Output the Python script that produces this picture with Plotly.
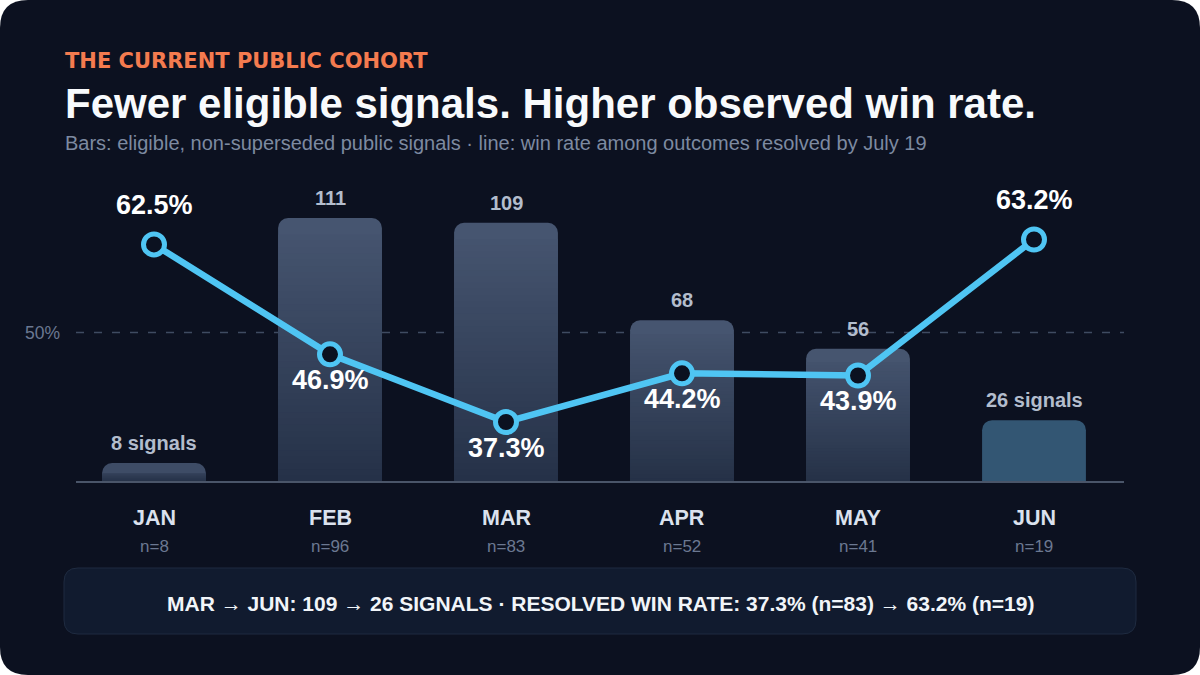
import plotly.graph_objects as go

# ---------------- data ----------------
months = ["JAN", "FEB", "MAR", "APR", "MAY", "JUN"]
signals = [8, 111, 109, 68, 56, 26]
win_rate = [62.5, 46.9, 37.3, 44.2, 43.9, 63.2]
resolved_n = [8, 96, 83, 52, 41, 19]
bar_labels = ["8 signals", "111", "109", "68", "56", "26 signals"]
rate_labels = ["62.5%", "46.9%", "37.3%", "44.2%", "43.9%", "63.2%"]
rate_label_above = [True, False, False, False, False, True]
highlight_month = "JUN"
reference_rate = 50

eyebrow = "THE CURRENT PUBLIC COHORT"
title = "Fewer eligible signals. Higher observed win rate."
subtitle = "Bars: eligible, non-superseded public signals · line: win rate among outcomes resolved by July 19"
summary = "MAR → JUN: 109 → 26 SIGNALS · RESOLVED WIN RATE: 37.3% (n=83) → 63.2% (n=19)"

# ---------------- styling ----------------
W, H = 1200, 675
FONT = "Liberation Sans, Arial, Helvetica, sans-serif"
BG = "#0c1120"
BAR_TOP = (0x47, 0x56, 0x71)
BAR_BOT = (0x25, 0x31, 0x47)
BAR_LAST = "#335673"
LINE = "#4fc5f3"
plot_left, plot_right = 66, 1122
plot_top, plot_bottom = 150, 482
bar_px_per_unit = 2.378
rate_px_per_pt = 7.047
rate_ref_px = 332.5
corner_px = 10


def px_x(p):
    return p / W


def px_y(p):
    return (H - p) / H


def mix(t):
    t = max(0.0, min(1.0, t))
    r, g, b = (round(BAR_BOT[i] + (BAR_TOP[i] - BAR_BOT[i]) * t) for i in range(3))
    return f"rgb({r},{g},{b})"


fig = go.Figure()

is_hl = [m == highlight_month for m in months]
corner_units = corner_px / bar_px_per_unit
base_colors = [BAR_LAST if h else mix((v - corner_units / 2) / v) for v, h in zip(signals, is_hl)]
fig.add_trace(go.Bar(
    x=months, y=signals, width=0.59,
    marker=dict(color=base_colors, line=dict(width=0), cornerradius=corner_px),
    hoverinfo="skip", showlegend=False, yaxis="y",
))

# vertical gradient: overlaid shorter bars with progressively darker shade
N = 40
for k in range(1, N):
    frac = 1 - k / N
    ys, cols = [], []
    for v, h in zip(signals, is_hl):
        if h:
            ys.append(None)
            cols.append(BAR_LAST)
        else:
            top = (v - corner_units) * frac
            ys.append(top)
            cols.append(mix((top - 0.5 * (v - corner_units) / N) / v))
    fig.add_trace(go.Bar(
        x=months, y=ys, width=0.59,
        marker=dict(color=cols, line=dict(width=0)),
        hoverinfo="skip", showlegend=False, yaxis="y",
    ))

fig.add_trace(go.Scatter(
    x=months, y=win_rate, mode="lines+markers", yaxis="y2",
    line=dict(color=LINE, width=6.5),
    marker=dict(size=21, color="#0b1120", line=dict(color=LINE, width=5)),
    hoverinfo="skip", showlegend=False,
))

annotations = []
for m, v, t in zip(months, signals, bar_labels):
    annotations.append(dict(x=m, y=v, xref="x", yref="y", text=f"<b>{t}</b>",
                            showarrow=False, yanchor="middle", yshift=20,
                            font=dict(family=FONT, size=20, color="#b3bdcd")))
for m, v, t, above in zip(months, win_rate, rate_labels, rate_label_above):
    annotations.append(dict(x=m, y=v, xref="x", yref="y2", text=f"<b>{t}</b>",
                            showarrow=False, yanchor="middle",
                            yshift=39 if above else -26,
                            font=dict(family=FONT, size=27, color="#ffffff")))
for m, n in zip(months, resolved_n):
    annotations.append(dict(x=m, y=px_y(518), xref="x", yref="paper", text=f"<b>{m}</b>",
                            showarrow=False, yanchor="middle",
                            font=dict(family=FONT, size=21.5, color="#dbe2ee")))
    annotations.append(dict(x=m, y=px_y(546), xref="x", yref="paper", text=f"n={n}",
                            showarrow=False, yanchor="middle",
                            font=dict(family=FONT, size=17, color="#6b7891")))
annotations.append(dict(x=px_x(62), y=reference_rate, xref="paper", yref="y2",
                        text=f"{reference_rate}%", showarrow=False,
                        xanchor="right", yanchor="middle",
                        font=dict(family=FONT, size=17.5, color="#6b7891")))
annotations.append(dict(x=px_x(63), y=px_y(61), xref="paper", yref="paper",
                        text=f"<b>{eyebrow}</b>", showarrow=False,
                        xanchor="left", yanchor="middle",
                        font=dict(family="DejaVu Sans, sans-serif", size=21, color="#f47b4f")))
annotations.append(dict(x=px_x(63), y=px_y(103), xref="paper", yref="paper",
                        text=f"<b>{title}</b>", showarrow=False,
                        xanchor="left", yanchor="middle",
                        font=dict(family=FONT, size=42, color="#f8fafc")))
annotations.append(dict(x=px_x(63), y=px_y(143), xref="paper", yref="paper",
                        text=subtitle, showarrow=False,
                        xanchor="left", yanchor="middle",
                        font=dict(family=FONT, size=20, color="#7d8aa1")))
annotations.append(dict(x=0.5, y=px_y(603), xref="paper", yref="paper",
                        text=f"<b>{summary}</b>", showarrow=False,
                        xanchor="center", yanchor="middle",
                        font=dict(family=FONT, size=21, color="#f1f5f9")))


def rounded_rect(x0, y0, x1, y1, r):
    X = px_x
    Y = px_y
    return (f"M {X(x0 + r)} {Y(y0)} L {X(x1 - r)} {Y(y0)} Q {X(x1)} {Y(y0)} {X(x1)} {Y(y0 + r)} "
            f"L {X(x1)} {Y(y1 - r)} Q {X(x1)} {Y(y1)} {X(x1 - r)} {Y(y1)} "
            f"L {X(x0 + r)} {Y(y1)} Q {X(x0)} {Y(y1)} {X(x0)} {Y(y1 - r)} "
            f"L {X(x0)} {Y(y0 + r)} Q {X(x0)} {Y(y0)} {X(x0 + r)} {Y(y0)} Z")


shapes = [
    dict(type="path", path=rounded_rect(0, 0, W, H, 28), xref="paper", yref="paper",
         fillcolor=BG, line=dict(width=0), layer="below"),
    dict(type="path", path=rounded_rect(64, 568, 1136, 634, 14), xref="paper", yref="paper",
         fillcolor="#111b2f", line=dict(width=1, color="#1f2b40"), layer="below"),
    dict(type="line", xref="paper", yref="y2", x0=px_x(76), x1=px_x(1124),
         y0=reference_rate, y1=reference_rate,
         line=dict(color="#3f4b61", width=1.5, dash="8px,10px"), layer="below"),
    dict(type="line", xref="paper", yref="paper", x0=px_x(76), x1=px_x(1124),
         y0=px_y(482), y1=px_y(482),
         line=dict(color="#4a5569", width=2), layer="above"),
]

y_max = (plot_bottom - plot_top) / bar_px_per_unit
y2_min = reference_rate - (plot_bottom - rate_ref_px) / rate_px_per_pt
y2_max = reference_rate + (rate_ref_px - plot_top) / rate_px_per_pt

fig.update_layout(
    width=W, height=H,
    margin=dict(l=0, r=0, t=0, b=0),
    paper_bgcolor="#ffffff", plot_bgcolor="rgba(0,0,0,0)",
    barmode="overlay",
    xaxis=dict(domain=[px_x(plot_left), px_x(plot_right)], range=[-0.5, 5.5],
               type="category", showticklabels=False, showgrid=False,
               zeroline=False, showline=False, fixedrange=True),
    yaxis=dict(domain=[px_y(plot_bottom), px_y(plot_top)], range=[0, y_max],
               showticklabels=False, showgrid=False, zeroline=False, showline=False),
    yaxis2=dict(overlaying="y", range=[y2_min, y2_max], showticklabels=False,
                showgrid=False, zeroline=False, showline=False),
    annotations=annotations,
    shapes=shapes,
    font=dict(family=FONT),
)

fig.write_html("out.html")
